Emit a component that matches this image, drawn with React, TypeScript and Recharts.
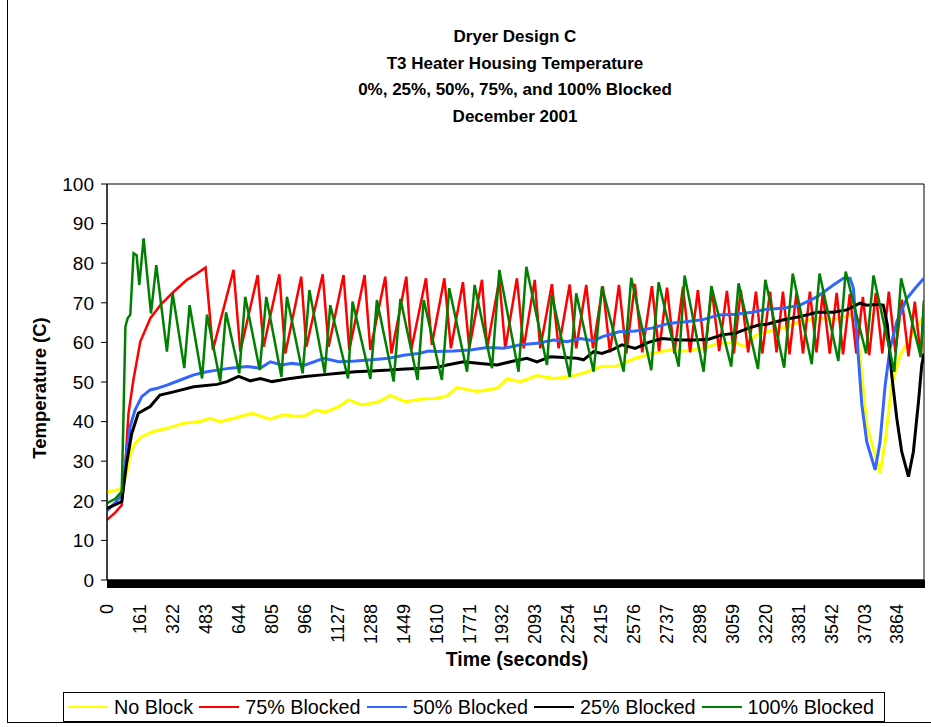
import React from "react";
import { LineChart, Line, XAxis, YAxis, ReferenceArea } from "recharts";

// time (s) / temperature (C)
const noBlockTime = [0, 40, 72, 96, 113, 137, 170, 227, 292, 374, 455, 504, 553, 618, 708, 797, 862, 930, 970, 1019, 1068, 1133, 1182, 1247, 1329, 1386, 1459, 1540, 1614, 1663, 1712, 1810, 1907, 1956, 2022, 2103, 2185, 2266, 2348, 2421, 2486, 2584, 2666, 2747, 2829, 2910, 2992, 3073, 3122, 3171, 3228, 3309, 3390, 3472, 3553, 3634, 3667, 3692, 3716, 3757, 3781, 3806, 3838, 3879, 3928, 3977, 3996];
const noBlockTemp = [22.3, 22.6, 23.1, 26.9, 31.6, 34.5, 36.2, 37.5, 38.3, 39.6, 40.0, 40.8, 40.0, 40.8, 42.1, 40.6, 41.7, 41.3, 41.5, 42.9, 42.4, 43.8, 45.5, 44.2, 45.0, 46.6, 45.0, 45.7, 45.9, 46.5, 48.6, 47.6, 48.4, 50.8, 50.1, 51.6, 50.9, 51.3, 52.6, 54.0, 53.9, 56.0, 57.2, 58.1, 57.8, 58.5, 59.8, 60.0, 58.9, 61.7, 62.7, 63.7, 65.2, 66.1, 65.7, 66.9, 65.2, 51.8, 39.1, 31.6, 26.9, 34.9, 49.2, 56.8, 61.0, 65.2, 66.9];

const blocked75Time = [0, 40, 72, 88, 105, 129, 163, 212, 261, 326, 391, 440, 482, 518, 619, 652, 737, 766, 843, 872, 950, 975, 1055, 1084, 1157, 1185, 1260, 1288, 1361, 1391, 1464, 1488, 1560, 1589, 1650, 1682, 1741, 1772, 1834, 1859, 1919, 1948, 2005, 2038, 2092, 2119, 2176, 2209, 2263, 2295, 2344, 2377, 2425, 2460, 2504, 2540, 2582, 2618, 2665, 2700, 2739, 2775, 2817, 2852, 2890, 2924, 2958, 2994, 3032, 3066, 3100, 3136, 3174, 3205, 3243, 3275, 3306, 3338, 3372, 3404, 3438, 3470, 3501, 3535, 3569, 3600, 3633, 3665, 3697, 3728, 3760, 3792, 3824, 3856, 3888, 3920, 3951, 3980, 3996];
const blocked75Temp = [15.2, 17.0, 18.9, 27.8, 42.0, 50.5, 60.2, 66.1, 69.4, 72.8, 75.8, 77.4, 78.9, 58.1, 78.3, 57.7, 77.0, 58.9, 77.2, 57.2, 76.6, 58.9, 77.2, 58.9, 77.0, 58.1, 77.0, 58.1, 76.6, 57.2, 76.6, 58.1, 76.2, 59.4, 76.2, 58.5, 75.2, 58.5, 75.8, 58.5, 75.8, 58.5, 76.2, 58.5, 75.8, 58.5, 74.7, 58.5, 74.6, 58.5, 74.5, 58.5, 74.2, 57.5, 74.5, 57.2, 74.8, 57.5, 74.2, 57.8, 73.8, 57.2, 74.0, 57.5, 73.2, 57.2, 73.5, 57.8, 73.0, 57.2, 73.2, 57.5, 72.8, 57.2, 72.8, 57.5, 72.8, 57.0, 72.5, 57.2, 72.8, 57.5, 72.5, 57.2, 72.5, 57.0, 72.2, 57.2, 71.5, 56.8, 72.5, 57.2, 72.8, 57.5, 70.8, 56.5, 70.3, 56.2, 70.0];

const blocked50Time = [0, 40, 72, 96, 113, 137, 170, 211, 245, 293, 359, 424, 489, 538, 603, 685, 750, 799, 856, 905, 970, 1060, 1133, 1215, 1296, 1378, 1459, 1524, 1573, 1614, 1696, 1777, 1859, 1940, 2022, 2103, 2185, 2250, 2315, 2380, 2421, 2503, 2584, 2666, 2747, 2829, 2910, 2992, 3073, 3155, 3228, 3309, 3390, 3472, 3553, 3602, 3634, 3651, 3667, 3692, 3716, 3757, 3781, 3806, 3830, 3863, 3912, 3960, 3996];
const blocked50Temp = [17.5, 19.5, 21.5, 32.0, 38.7, 42.9, 46.3, 48.0, 48.4, 49.2, 50.5, 51.8, 52.6, 53.0, 53.5, 53.9, 53.5, 55.1, 54.3, 54.7, 54.3, 56.0, 55.1, 55.3, 55.6, 56.0, 56.8, 57.2, 57.8, 57.7, 57.8, 58.1, 58.7, 58.5, 59.4, 59.8, 60.6, 60.2, 61.0, 60.4, 61.4, 62.7, 62.9, 63.6, 64.8, 65.2, 65.7, 66.9, 67.1, 67.6, 68.4, 68.6, 69.4, 71.5, 74.5, 76.2, 76.2, 73.6, 61.9, 44.2, 34.9, 27.8, 34.9, 49.2, 58.5, 65.2, 71.1, 74.1, 76.2];

const blocked25Time = [0, 40, 72, 96, 121, 153, 211, 259, 326, 424, 538, 587, 644, 701, 750, 807, 888, 970, 1052, 1133, 1215, 1296, 1378, 1459, 1540, 1614, 1663, 1744, 1826, 1907, 1989, 2054, 2103, 2168, 2233, 2299, 2331, 2380, 2421, 2470, 2519, 2584, 2649, 2714, 2796, 2877, 2943, 3008, 3073, 3138, 3187, 3228, 3309, 3390, 3472, 3553, 3618, 3683, 3716, 3765, 3797, 3817, 3838, 3863, 3887, 3920, 3944, 3969, 3985, 3996];
const blocked25Temp = [18.1, 19.0, 19.8, 29.5, 37.0, 42.1, 43.8, 46.7, 47.5, 48.8, 49.4, 50.1, 51.4, 50.3, 50.9, 50.1, 50.8, 51.4, 51.8, 52.2, 52.6, 52.8, 53.0, 53.3, 53.5, 53.7, 54.3, 55.1, 54.7, 54.3, 55.3, 56.0, 55.1, 56.4, 56.2, 56.0, 55.6, 57.7, 57.2, 58.1, 59.4, 58.5, 60.0, 61.0, 60.6, 60.6, 60.8, 61.9, 62.3, 63.6, 64.4, 64.6, 65.7, 66.5, 67.6, 67.6, 68.2, 69.9, 69.4, 69.6, 69.4, 64.4, 51.8, 40.8, 32.4, 26.1, 32.4, 45.0, 54.3, 57.2];

const blocked100Time = [0, 40, 72, 80, 90, 101, 114, 130, 145, 158, 179, 215, 241, 293, 321, 378, 404, 465, 489, 554, 582, 647, 676, 747, 779, 853, 880, 957, 990, 1065, 1092, 1179, 1201, 1288, 1320, 1402, 1435, 1519, 1549, 1638, 1674, 1761, 1798, 1883, 1919, 2013, 2051, 2152, 2176, 2263, 2295, 2380, 2421, 2527, 2564, 2662, 2698, 2796, 2825, 2918, 2956, 3053, 3089, 3184, 3220, 3312, 3354, 3447, 3485, 3577, 3613, 3713, 3749, 3851, 3884, 3980, 3996];
const blocked100Temp = [19.4, 20.5, 22.3, 40.0, 64.0, 66.1, 67.0, 82.5, 82.0, 74.5, 86.3, 67.3, 79.5, 57.7, 72.4, 53.5, 69.4, 50.9, 67.0, 50.1, 67.6, 52.2, 71.5, 53.0, 71.5, 51.3, 71.5, 52.2, 73.2, 52.2, 69.4, 50.9, 70.3, 50.8, 70.7, 50.1, 71.0, 50.5, 70.7, 50.5, 73.7, 52.6, 74.5, 53.5, 78.3, 52.6, 79.1, 54.3, 72.0, 51.3, 72.4, 52.6, 74.1, 52.6, 76.3, 53.0, 75.2, 53.9, 76.9, 52.6, 74.2, 53.9, 74.9, 53.3, 75.8, 53.6, 77.4, 54.5, 77.4, 55.3, 77.9, 57.2, 76.9, 52.6, 76.2, 56.4, 70.7];

const xTicks = [0, 161, 322, 483, 644, 805, 966, 1127, 1288, 1449, 1610, 1771, 1932, 2093, 2254, 2415, 2576, 2737, 2898, 3059, 3220, 3381, 3542, 3703, 3864];
const yTicks = [0, 10, 20, 30, 40, 50, 60, 70, 80, 90, 100];
const X_MAX = 3996;

const toPoints = (times: number[], temps: number[]) => times.map((t, i) => ({ t, v: temps[i] }));

const series = [
  { name: "No Block", color: "#ffff00", width: 3, data: toPoints(noBlockTime, noBlockTemp) },
  { name: "75% Blocked", color: "#ff0000", width: 2.5, data: toPoints(blocked75Time, blocked75Temp) },
  { name: "50% Blocked", color: "#3366ff", width: 3, data: toPoints(blocked50Time, blocked50Temp) },
  { name: "25% Blocked", color: "#000000", width: 3, data: toPoints(blocked25Time, blocked25Temp) },
  { name: "100% Blocked", color: "#008000", width: 2.5, data: toPoints(blocked100Time, blocked100Temp) },
];

const FONT = "'Liberation Sans', Arial, sans-serif";

const XTick = (props: any) => {
  const { x, y, payload } = props;
  return (
    <g transform={`translate(${x},${y})`}>
      <text transform="rotate(-90)" x={-16} y={0} dy="0.36em" textAnchor="end" fill="#000" fontSize={18} fontFamily={FONT}>
        {payload.value}
      </text>
    </g>
  );
};

export default function App() {
  return (
    <div style={{ position: "absolute", left: 0, top: 0, width: 931, height: 727, background: "#fff", fontFamily: FONT, overflow: "hidden" }}>
      <div style={{ position: "absolute", left: 7, top: -1, width: 940, height: 723, borderLeft: "1px solid #000", borderBottom: "1px solid #000" }} />

      <div style={{ position: "absolute", left: 215, width: 600, top: 24, textAlign: "center", fontWeight: "bold", fontSize: 17, lineHeight: "26.7px" }}>
        <div>Dryer Design C</div>
        <div>T3 Heater Housing Temperature</div>
        <div>0%, 25%, 50%, 75%, and 100% Blocked</div>
        <div>December 2001</div>
      </div>

      <LineChart width={931} height={727} margin={{ top: 184, right: 7, bottom: 87, left: 47 }} style={{ position: "absolute", left: 0, top: 0 }}>
        <XAxis
          type="number"
          dataKey="t"
          domain={[0, X_MAX]}
          ticks={xTicks}
          interval={0}
          height={60}
          tickLine={false}
          axisLine={{ stroke: "#000" }}
          tick={<XTick />}
          allowDataOverflow
        />
        <YAxis
          type="number"
          domain={[0, 100]}
          ticks={yTicks}
          interval={0}
          width={60}
          tickSize={6}
          tickMargin={7}
          tickLine={{ stroke: "#000" }}
          axisLine={{ stroke: "#000" }}
          tick={{ fill: "#000", fontSize: 19, fontFamily: FONT }}
        />
        <ReferenceArea x1={0} x2={X_MAX} y1={0} y2={100} fill="none" stroke="#000" strokeWidth={1} />
        {series.map((s) => (
          <Line
            key={s.name}
            data={s.data}
            dataKey="v"
            name={s.name}
            type="linear"
            stroke={s.color}
            strokeWidth={s.width}
            dot={false}
            activeDot={false}
            isAnimationActive={false}
          />
        ))}
      </LineChart>

      {/* dense category tick marks drawn by Excel as a solid bar */}
      <div style={{ position: "absolute", left: 107, top: 580, width: 818, height: 8, background: "#000" }} />

      <div style={{ position: "absolute", left: 40, top: 388, transform: "translate(-50%,-50%) rotate(-90deg)", whiteSpace: "nowrap", fontWeight: "bold", fontSize: 18.5 }}>
        Temperature (C)
      </div>
      <div style={{ position: "absolute", left: 517, top: 659, transform: "translate(-50%,-50%)", whiteSpace: "nowrap", fontWeight: "bold", fontSize: 19.5 }}>
        Time (seconds)
      </div>

      <div style={{ position: "absolute", left: 63, top: 692, width: 816, height: 28, border: "1px solid #000", display: "flex", alignItems: "center", paddingLeft: 4, boxSizing: "content-box", fontSize: 19.8 }}>
        {series.map((s) => (
          <div key={s.name} style={{ display: "flex", alignItems: "center", whiteSpace: "nowrap", marginRight: 6 }}>
            <svg width={40} height={4} style={{ marginRight: 6 }}>
              <line x1={0} y1={2} x2={40} y2={2} stroke={s.color} strokeWidth={2} />
            </svg>
            <span>{s.name}</span>
          </div>
        ))}
      </div>
    </div>
  );
}
